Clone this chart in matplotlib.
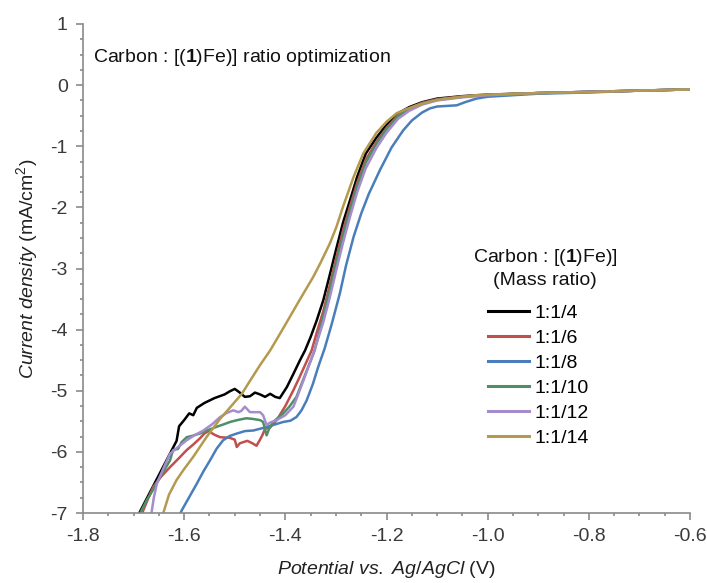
import matplotlib
matplotlib.use("Agg")
import matplotlib.pyplot as plt
from matplotlib.ticker import MultipleLocator, FormatStrFormatter

plt.rcParams['font.family'] = ['Liberation Sans', 'DejaVu Sans']
plt.rcParams['mathtext.fontset'] = 'custom'
plt.rcParams['mathtext.rm'] = 'Liberation Sans'
plt.rcParams['mathtext.it'] = 'Liberation Sans:italic'
plt.rcParams['mathtext.bf'] = 'Liberation Sans:bold'
plt.rcParams['axes.unicode_minus'] = False

# ---------------------------
# Data
# ---------------------------
labels = ['1:1/4', '1:1/6', '1:1/8', '1:1/10', '1:1/12', '1:1/14']
colors = ['#000000', '#c0504d', '#4a7ebb', '#4f8f68', '#a58ccc', '#b39a4f']

v_14 = [-0.60, -0.70, -0.80, -0.90, -1.00, -1.05, -1.10, -1.13, -1.155, -1.177, -1.20, -1.22,
        -1.241, -1.258, -1.272, -1.286, -1.30, -1.312, -1.325, -1.338, -1.35, -1.361, -1.371,
        -1.385, -1.397, -1.411, -1.42, -1.43, -1.44, -1.45, -1.46, -1.47, -1.48, -1.49, -1.50,
        -1.51, -1.52, -1.54, -1.56, -1.575, -1.582, -1.59, -1.60, -1.61, -1.615, -1.625, -1.64,
        -1.655, -1.67, -1.69]
j_14 = [-0.07, -0.09, -0.11, -0.13, -0.155, -0.18, -0.22, -0.28, -0.36, -0.46, -0.65, -0.86,
        -1.12, -1.50, -1.88, -2.25, -2.70, -3.10, -3.52, -3.85, -4.12, -4.34, -4.50,
        -4.74, -4.94, -5.12, -5.10, -5.05, -5.10, -5.06, -5.03, -5.09, -5.10, -5.03, -4.97,
        -5.01, -5.06, -5.12, -5.20, -5.28, -5.40, -5.37, -5.48, -5.58, -5.82, -5.98, -6.22,
        -6.46, -6.70, -7.02]

v_16 = [-0.60, -0.70, -0.80, -0.90, -1.00, -1.05, -1.10, -1.13, -1.155, -1.177, -1.20, -1.22,
        -1.241, -1.258, -1.272, -1.286, -1.30, -1.312, -1.325, -1.338, -1.348, -1.36, -1.372,
        -1.384, -1.40, -1.417, -1.43, -1.44, -1.445, -1.45, -1.457, -1.465, -1.475, -1.483,
        -1.49, -1.496, -1.50, -1.51, -1.529, -1.54, -1.552, -1.56, -1.569, -1.582, -1.595,
        -1.61, -1.628, -1.645, -1.661, -1.672, -1.684]
j_16 = [-0.07, -0.09, -0.11, -0.13, -0.16, -0.185, -0.23, -0.29, -0.38, -0.49, -0.70, -0.93,
        -1.22, -1.60, -1.98, -2.38, -2.85, -3.27, -3.70, -4.05, -4.34, -4.56, -4.78,
        -4.99, -5.25, -5.48, -5.60, -5.62, -5.72, -5.80, -5.90, -5.86, -5.82, -5.84,
        -5.86, -5.92, -5.80, -5.77, -5.76, -5.72, -5.66, -5.70, -5.78, -5.88, -5.97,
        -6.10, -6.25, -6.40, -6.57, -6.78, -7.02]

v_18 = [-0.60, -0.70, -0.80, -0.90, -1.00, -1.022, -1.045, -1.061, -1.08, -1.10, -1.114, -1.13,
        -1.15, -1.167, -1.19, -1.213, -1.235, -1.25, -1.265, -1.28, -1.292, -1.308, -1.322,
        -1.335, -1.346, -1.358, -1.368, -1.378, -1.39, -1.404, -1.42, -1.44, -1.463, -1.48,
        -1.496, -1.51, -1.523, -1.536, -1.549, -1.562, -1.575, -1.59, -1.605, -1.608]
j_18 = [-0.07, -0.09, -0.12, -0.14, -0.19, -0.22, -0.28, -0.33, -0.34, -0.35, -0.38, -0.45,
        -0.58, -0.74, -1.02, -1.39, -1.78, -2.10, -2.48, -2.95, -3.40, -3.90, -4.30,
        -4.61, -4.90, -5.16, -5.32, -5.43, -5.49, -5.51, -5.55, -5.60, -5.65, -5.66,
        -5.70, -5.74, -5.81, -5.95, -6.14, -6.32, -6.52, -6.74, -6.96, -7.02]

v_110 = [-0.60, -0.70, -0.80, -0.90, -1.00, -1.05, -1.10, -1.13, -1.155, -1.177, -1.20, -1.22,
         -1.241, -1.258, -1.272, -1.286, -1.30, -1.312, -1.325, -1.342, -1.36, -1.378, -1.392,
         -1.404, -1.424, -1.432, -1.437, -1.441, -1.444, -1.45, -1.465, -1.477, -1.495, -1.509,
         -1.522, -1.536, -1.552, -1.569, -1.585, -1.595, -1.605, -1.612, -1.622, -1.628, -1.638,
         -1.648, -1.66, -1.674, -1.688]
j_110 = [-0.07, -0.09, -0.11, -0.13, -0.16, -0.19, -0.24, -0.30, -0.39, -0.51, -0.72, -0.96,
         -1.27, -1.66, -2.05, -2.46, -2.93, -3.35, -3.78, -4.34, -4.72, -5.10, -5.26,
         -5.37, -5.51, -5.62, -5.73, -5.60, -5.51, -5.48, -5.46, -5.45, -5.48, -5.51,
         -5.55, -5.59, -5.64, -5.70, -5.74, -5.76, -5.84, -5.95, -5.97, -6.14, -6.28,
         -6.41, -6.60, -6.79, -7.02]

v_112 = [-0.60, -0.70, -0.80, -0.90, -1.00, -1.05, -1.10, -1.13, -1.155, -1.177, -1.20, -1.22,
         -1.241, -1.258, -1.272, -1.286, -1.30, -1.312, -1.325, -1.345, -1.365, -1.384, -1.40,
         -1.417, -1.43, -1.437, -1.444, -1.45, -1.46, -1.47, -1.48, -1.487, -1.493, -1.503,
         -1.515, -1.529, -1.545, -1.562, -1.58, -1.595, -1.612, -1.628, -1.64, -1.654, -1.66,
         -1.665]
j_112 = [-0.07, -0.09, -0.11, -0.13, -0.165, -0.20, -0.25, -0.32, -0.42, -0.55, -0.78, -1.03,
         -1.36, -1.75, -2.15, -2.58, -3.05, -3.47, -3.88, -4.40, -4.85, -5.26, -5.40,
         -5.48, -5.52, -5.56, -5.40, -5.35, -5.35, -5.35, -5.26, -5.33, -5.35, -5.32,
         -5.36, -5.43, -5.55, -5.65, -5.73, -5.81, -5.92, -6.03, -6.25, -6.52, -6.75,
         -7.02]

v_114 = [-0.60, -0.70, -0.80, -0.90, -1.00, -1.022, -1.06, -1.09, -1.114, -1.14, -1.16, -1.18,
         -1.20, -1.22, -1.246, -1.265, -1.286, -1.299, -1.312, -1.33, -1.345, -1.37, -1.391,
         -1.41, -1.43, -1.45, -1.47, -1.486, -1.51, -1.529, -1.556, -1.582, -1.60, -1.615,
         -1.63, -1.642]
j_114 = [-0.07, -0.09, -0.115, -0.13, -0.155, -0.164, -0.20, -0.23, -0.27, -0.33, -0.39, -0.46,
         -0.60, -0.78, -1.12, -1.50, -1.99, -2.32, -2.59, -2.90, -3.14, -3.49, -3.79,
         -4.06, -4.34, -4.58, -4.84, -5.05, -5.28, -5.46, -5.76, -6.08, -6.28, -6.46,
         -6.70, -7.02]

potentials = [v_14, v_16, v_18, v_110, v_112, v_114]
currents = [j_14, j_16, j_18, j_110, j_112, j_114]

# ---------------------------
# Plot
# ---------------------------
fig = plt.figure(figsize=(7.07, 5.83), dpi=100)
ax = fig.add_axes([83 / 707, 70 / 583, 607 / 707, 489 / 583])

lines = []
for v, j, c, lab in zip(potentials, currents, colors, labels):
    ln, = ax.plot(v, j, color=c, lw=1.8, label=lab, solid_joinstyle='round')
    lines.append(ln)

ax.set_xlim(-1.8, -0.6)
ax.set_ylim(-7, 1)
ax.xaxis.set_major_locator(MultipleLocator(0.2))
ax.xaxis.set_minor_locator(MultipleLocator(0.05))
ax.yaxis.set_major_locator(MultipleLocator(1))
ax.yaxis.set_minor_locator(MultipleLocator(0.25))
ax.xaxis.set_major_formatter(FormatStrFormatter('%.1f'))
ax.yaxis.set_major_formatter(FormatStrFormatter('%d'))

axis_gray = '#8a8a8a'
for side in ['top', 'right']:
    ax.spines[side].set_visible(False)
for side in ['left', 'bottom']:
    ax.spines[side].set_color(axis_gray)
    ax.spines[side].set_linewidth(1.2)
ax.tick_params(which='major', direction='out', length=5, width=1.2, color=axis_gray,
               labelsize=14, labelcolor='#3a3a3a', pad=6)
ax.tick_params(which='minor', direction='out', length=2.5, width=1.2, color=axis_gray)

ax.set_xlabel(r'$\it{Potential\ vs.\ Ag/AgCl}$ (V)', fontsize=14, color='#222222', labelpad=10)
ax.set_ylabel(r'$\it{Current\ density}$ (mA/cm$^2$)', fontsize=14, color='#222222', labelpad=7)

fig.text(93 / 707, 1 - 58 / 583, r'Carbon : [($\mathbf{1}$)Fe)] ratio optimization',
         fontsize=14, color='#111111', va='center', ha='left')

fig.text(545 / 707, 1 - 268 / 583, 'Carbon : [($\\mathbf{1}$)Fe)]\n(Mass ratio)',
         fontsize=14, color='#111111', va='center', ha='center', linespacing=1.3)

leg = ax.legend(handles=lines, loc='upper left', bbox_to_anchor=((488 - 83) / 607, (513 - 304) / 489),
                frameon=False, fontsize=14, handlelength=2.1, handletextpad=0.3,
                labelspacing=0.38, borderpad=0, borderaxespad=0)
for ln in leg.get_lines():
    ln.set_linewidth(2.2)

fig.savefig('out.png', dpi=100)
